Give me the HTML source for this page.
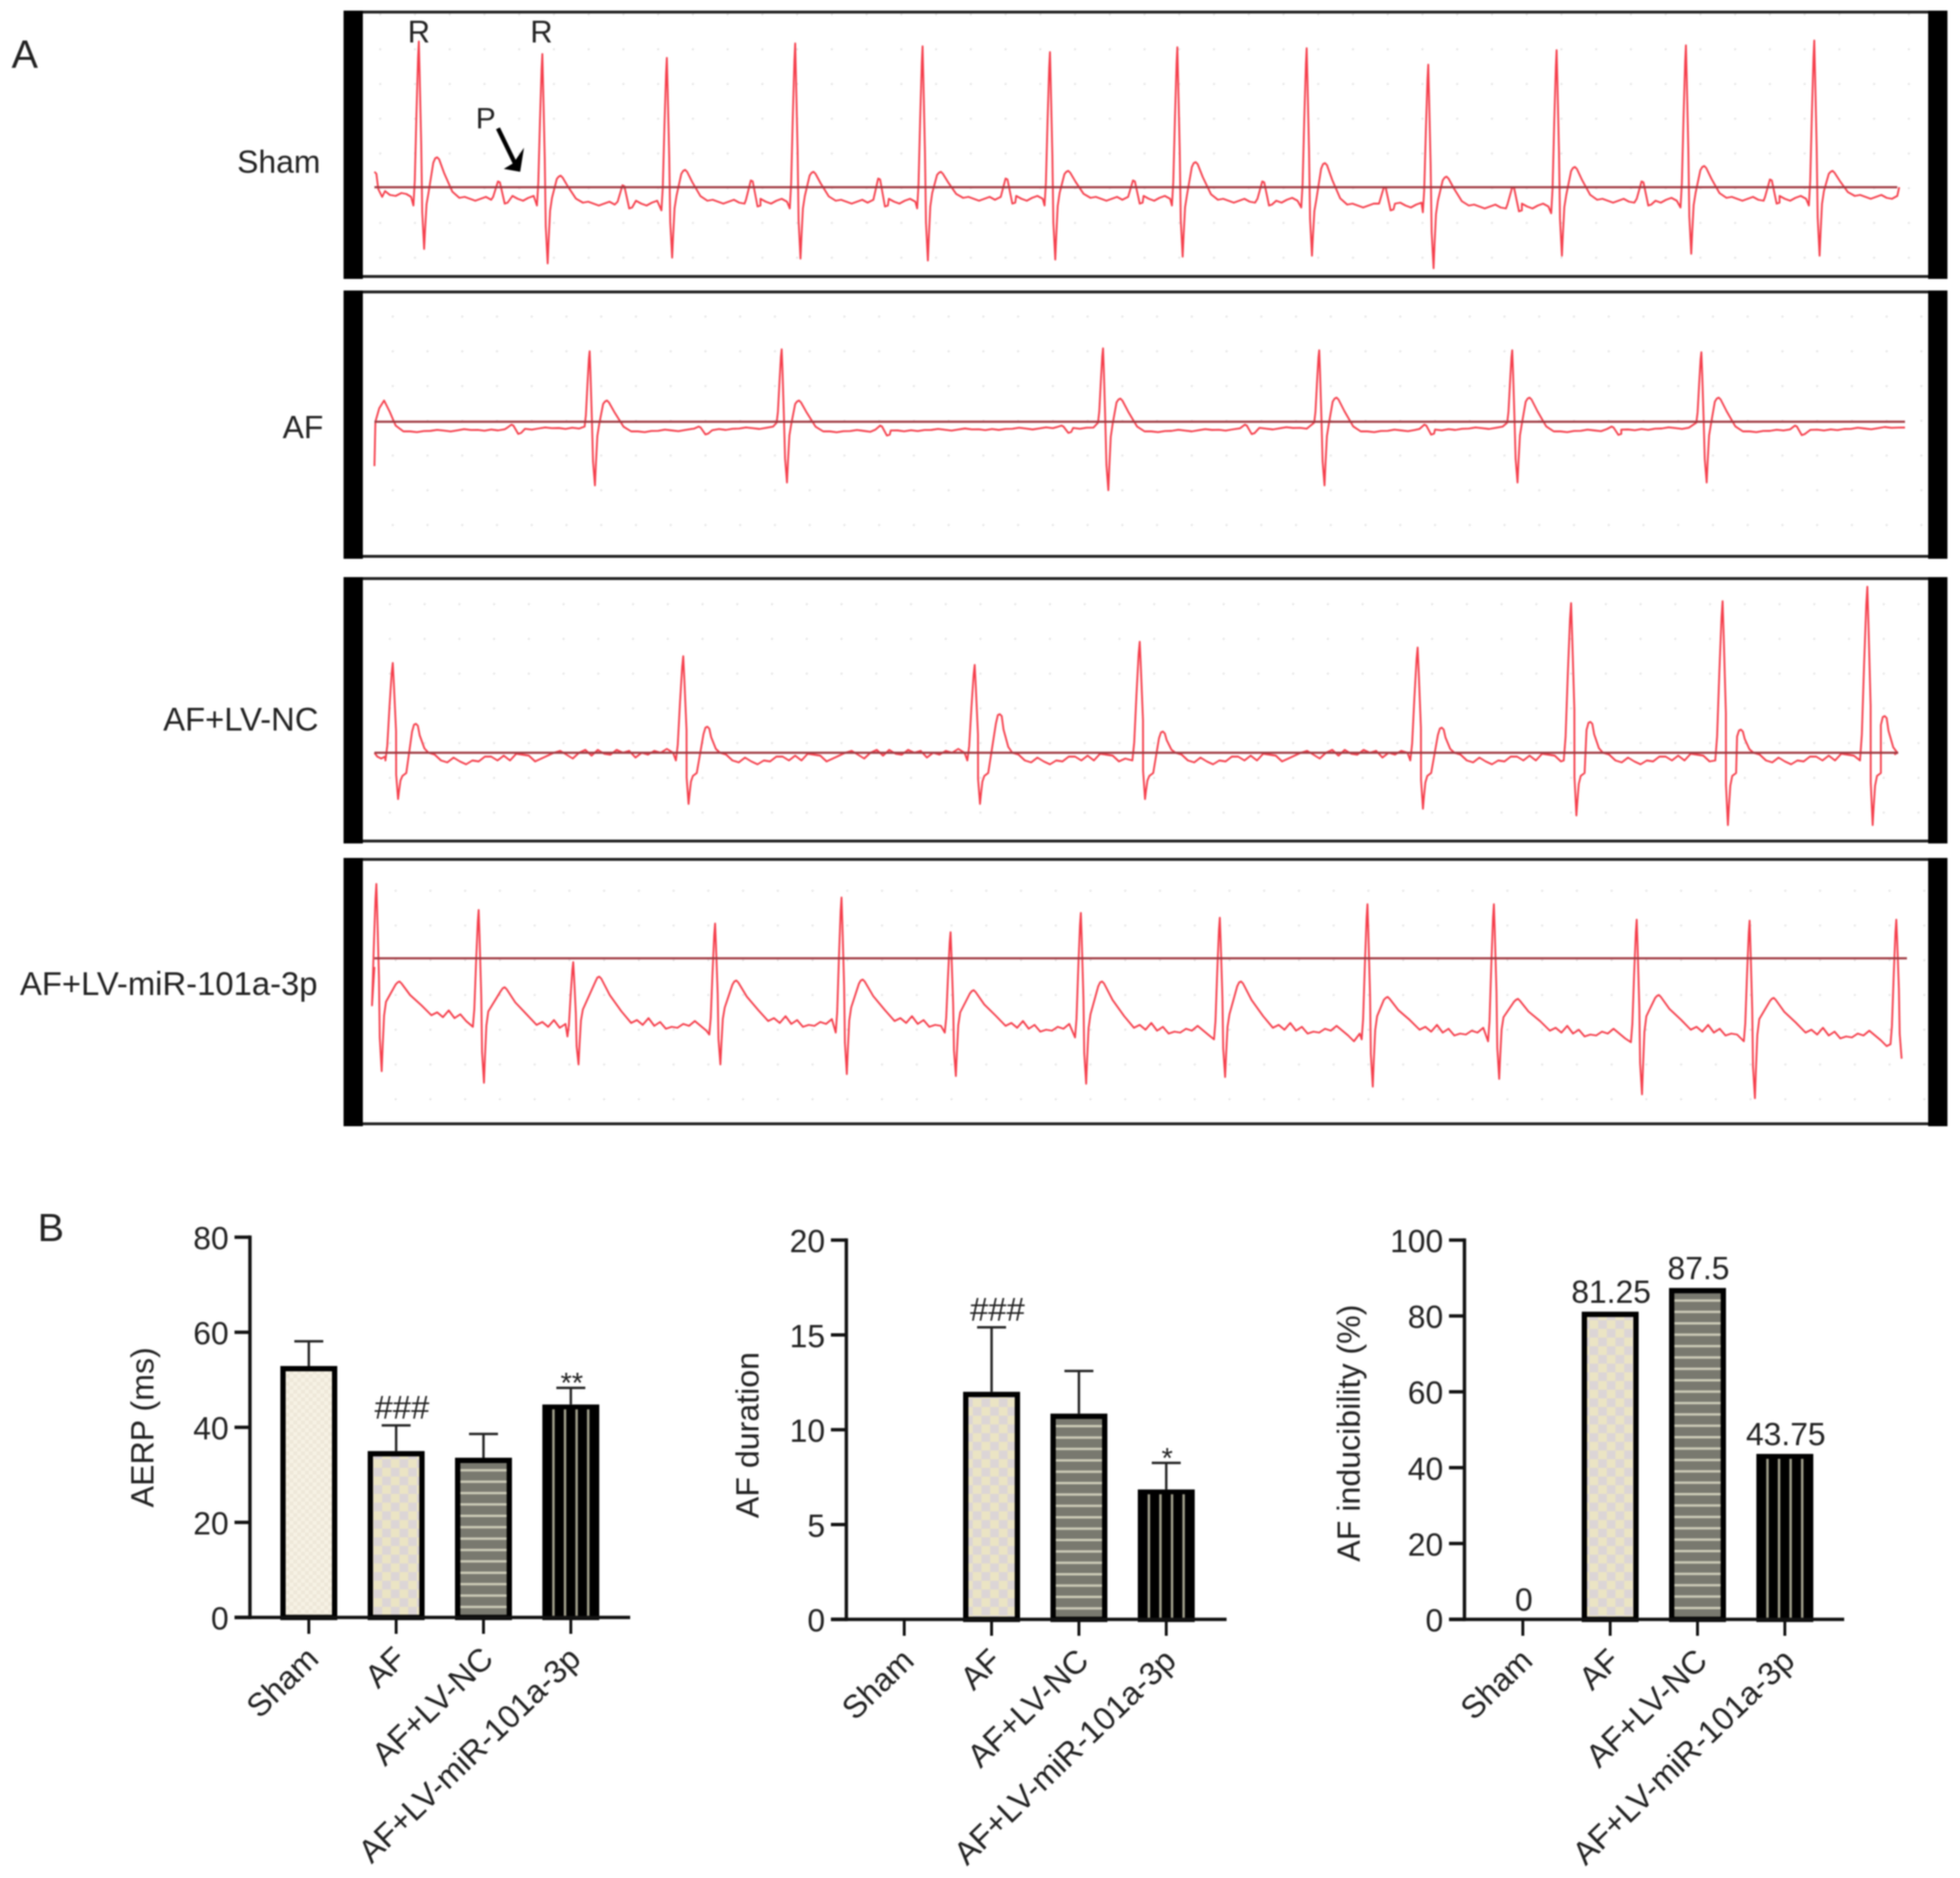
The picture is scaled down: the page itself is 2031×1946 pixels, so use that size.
<!DOCTYPE html>
<html lang="en">
<head>
<meta charset="utf-8">
<title>ECG traces and AF bar charts</title>
<style>
html,body{margin:0;padding:0;background:#fff;}
svg{display:block;filter:blur(.7px);}
text{font-family:"Liberation Sans",sans-serif;fill:#222;}
</style>
</head>
<body>
<svg id="figure" xmlns="http://www.w3.org/2000/svg" width="2031" height="1946" viewBox="0 0 2031 1946">
  <defs>
    <pattern id="dots1" patternUnits="userSpaceOnUse" x="393" y="14" width="36" height="36"><circle cx="1" cy="1" r="1.2" fill="#e6e6e6"/></pattern>
    <pattern id="dots2" patternUnits="userSpaceOnUse" x="406" y="327" width="36" height="36"><circle cx="1" cy="1" r="1.2" fill="#e6e6e6"/></pattern>
    <pattern id="dots3" patternUnits="userSpaceOnUse" x="403" y="625" width="36" height="36"><circle cx="1" cy="1" r="1.2" fill="#e6e6e6"/></pattern>
    <pattern id="dots4" patternUnits="userSpaceOnUse" x="409" y="922" width="36" height="36"><circle cx="1" cy="1" r="1.2" fill="#e6e6e6"/></pattern>
    <pattern id="fine-check" patternUnits="userSpaceOnUse" width="8" height="8">
      <rect width="8" height="8" fill="#f6f1e4"/><rect width="4" height="4" fill="#eee8d9"/><rect x="4" y="4" width="4" height="4" fill="#eee8d9"/>
    </pattern>
    <pattern id="coarse-check" patternUnits="userSpaceOnUse" width="18" height="18">
      <rect width="18" height="18" fill="#ebe4c4"/><rect width="9" height="9" fill="#dcd5d6"/><rect x="9" y="9" width="9" height="9" fill="#dcd5d6"/>
    </pattern>
  </defs>

  <text x="12" y="70" font-size="41">A</text>
  <text x="39" y="1286" font-size="41">B</text>

  <g>
    <rect x="376" y="14" width="1622" height="270" fill="url(#dots1)"/>
    <rect x="366" y="12.5" width="1642" height="274" fill="none" stroke="#222" stroke-width="3"/>
    <rect x="356" y="11" width="20" height="278" fill="#000"/>
    <rect x="1998" y="11" width="20" height="278" fill="#000"/>
    <text x="332" y="179" font-size="33" text-anchor="end">Sham</text>
  </g>
  <g>
    <rect x="376" y="304" width="1622" height="270" fill="url(#dots2)"/>
    <rect x="366" y="302.5" width="1642" height="274" fill="none" stroke="#222" stroke-width="3"/>
    <rect x="356" y="301" width="20" height="278" fill="#000"/>
    <rect x="1998" y="301" width="20" height="278" fill="#000"/>
    <text x="335" y="454" font-size="33" text-anchor="end">AF</text>
  </g>
  <g>
    <rect x="376" y="600" width="1622" height="268" fill="url(#dots3)"/>
    <rect x="366" y="599.5" width="1642" height="272" fill="none" stroke="#222" stroke-width="3"/>
    <rect x="356" y="598" width="20" height="276" fill="#000"/>
    <rect x="1998" y="598" width="20" height="276" fill="#000"/>
    <text x="330" y="757" font-size="34" text-anchor="end">AF+LV-NC</text>
  </g>
  <g>
    <rect x="376" y="892" width="1622" height="270" fill="url(#dots4)"/>
    <rect x="366" y="890.5" width="1642" height="274" fill="none" stroke="#222" stroke-width="3"/>
    <rect x="356" y="889" width="20" height="278" fill="#000"/>
    <rect x="1998" y="889" width="20" height="278" fill="#000"/>
    <text x="329" y="1031" font-size="34" text-anchor="end">AF+LV-miR-101a-3p</text>
  </g>

  <g id="traces"></g>

  <g>
    <text x="434" y="44" font-size="32" text-anchor="middle">R</text>
    <text x="561" y="44" font-size="32" text-anchor="middle">R</text>
    <text x="493" y="133" font-size="31">P</text>
    <line x1="516" y1="133" x2="534" y2="170" stroke="#000" stroke-width="4.5"/>
    <polygon points="543,153 539,178 522,175 532,169" fill="#000"/>
  </g>

  <g id="charts"></g>
</svg>

<script>
/* ---------- ECG data (time: strip units, voltage: strip units above the reference line) ---------- */
const shamBeats   = [46,174,303,436,568,700,832,966,1092,1225,1359,1492];
const shamR       = [151,138,134,149,146,140,145,144,127,142,147,152];
const shamS       = [-64,-79,-73,-74,-76,-75,-72,-71,-84,-71,-69,-71];
const shamT       = [31,12,18,16,16,17,26,25,11,21,22,17];
const shamRest    = [-11,-16,-14,-14,-11,-11,-13,-18,-19,-13,-11,-9];
const shamPTimes  = [129,258,391,523,655,787,921,1047,1180,1314,1447];
const shamPAmps   = [6,2,7,9,9,7,6,0,0,6,8];
const shamWiggle  = [1,-1,-3,-1,1,-2,-3,-1,1,2,-1,-3,0,2,-1,-2,1,3];
const shamLeadT   = [0,2,4,8,11,16,22,28,33,38];
const shamLeadV   = [16,14,-2,-10,-4,-8,-9,-6,-7,-10];
const shamTailT   = [1578,1580];
const shamTailV   = [-9,0];

const afBeats     = [223,422,755,979,1179,1375];
const afR         = [73,75,76,74,74,72];
const afS         = [-66,-63,-71,-66,-63,-63];
const afT         = [22,22,24,25,25,25];
const afRest      = [-10,-10,-10,-10,-10,-10];
const afRestEnd   = [-6,-6,-6,-6,-6,-6];
const afPTimes    = [143,337,525,713,903,1089,1283,1473];
const afPAmps     = [-3,-5,-4,-4,-3,-3,-5,-4];
const afWiggle    = [0,-1,0,0,1,0,-1,0,1,0,0,-1];
const afLeadT     = [0,1,5,10,16,22,30];
const afLeadV     = [-46,0,14,22,10,-4,-10];
const afTailT     = [1586];
const afTailV     = [-6];

const ncBeats     = [19,320,622,793,1081,1240,1397,1547];
const ncR         = [93,100,91,115,109,155,157,172];
const ncS         = [-48,-53,-53,-48,-58,-65,-75,-75];
const ncT         = [30,27,40,22,26,32,24,38];
const ncTLag      = [23,24,25,23,24,19,18,17];
const ncRest      = [0,0,0,0,0,0,0,0];
const ncWiggle    = [-2,-8,-10,-5,-9,-12,-8,-9,-4,-4,-8,-3,-8,-1,-2,-3,-9,-6,-3,0,2,-2,-6,0,3,-3,3,-1,-2,3,0,2,-5,0,-2,2,0,4,0,2,-2,3,1,-1,3,-2,2,3];
const ncLeadT     = [0,3,7,11];
const ncLeadV     = [0,-4,-6,-4];
const ncTailT     = [1575];
const ncTailV     = [-2];

const mirBeats    = [2,108,206,353,484,597,732,876,1029,1160,1308,1425,1577];
const mirR        = [77,50,-4,36,63,27,47,42,56,56,40,39,40];
const mirS        = [-117,-129,-110,-110,-120,-122,-130,-123,-133,-125,-141,-145,-104];
const mirT        = [-24,-30,-19,-23,-22,-33,-24,-24,-40,-42,-38,-41,-40];
const mirTLag     = [23,26,26,21,21,23,21,21,20,24,22,24,22];
const mirRest     = [-59,-69,-67,-65,-65,-70,-72,-72,-74,-75,-74,-77,-77];
const mirWiggle   = [3,-2,5,-3,1,-6,-4,-5,-1,-3,2,-3,-8,-14,-6,1,-3,4,-5,0,-1,3,-9,-3,-12,-4,-3,1,5,-2,0,-3,-10,-3,3,0,-2,-5,2,-8,-3,-11,-6,-3,-12,-6,5];
const mirLeadT    = [0];
const mirLeadV    = [-9];

/* ---------- Bar chart data ---------- */
const categories   = ["Sham","AF","AF+LV-NC","AF+LV-miR-101a-3p"];
const aerpValues   = [52.9,35,33.6,44.8];
const aerpErrors   = [58.1,40.4,38.6,48.3];
const aerpTicks    = [0,20,40,60,80];
const aerpMarks    = ["","###","","**"];
const durValues    = [0,12,10.85,6.85];
const durErrors    = [0,15.4,13.1,8.25];
const durTicks     = [0,5,10,15,20];
const durMarks     = ["","###","","*"];
const induValues   = [0,81.25,87.5,43.75];
const induLabels   = ["0","81.25","87.5","43.75"];
const induTicks    = [0,20,40,60,80,100];

const SVGNS = "http://www.w3.org/2000/svg";
function mk(parent, tag, attrs, txt){
  const el = document.createElementNS(SVGNS, tag);
  for(const k in attrs){ el.setAttribute(k, attrs[k]); }
  if(txt !== undefined){ el.textContent = txt; }
  parent.appendChild(el);
  return el;
}
const lerp = (a,b,f)=>a+(b-a)*f;

function buildTrace(c){
  const pts = [];
  const add = (t,v)=>pts.push([t,v]);
  c.leadT.forEach((t,k)=>add(t,c.leadV[k]));
  const restA = i=>c.rest[i];
  const restB = i=>c.restEnd ? c.restEnd[i] : c.rest[i];
  const pT = c.pTimes || [];
  const pA = c.pAmps || [];
  const used = {};
  function fill(from,to,i){
    let k = 0;
    for(let t=from; t<to; t+=c.step, k++){
      const base = lerp(restA(i),restB(i),(t-from)/Math.max(1,to-from));
      const ev = pT.findIndex(p=>t>=p-7 && t<p+9);
      if(ev>=0){
        if(!used[ev]){
          used[ev] = true;
          const p = pT[ev];
          add(p-6,base+1);
          add(p-1,pA[ev]);
          add(p+1,pA[ev]-1);
          add(p+6,base+c.pDip);
          add(p+9,base+c.pDip+1);
        }
        continue;
      }
      add(t, base + c.wiggle[k % c.wiggle.length]);
    }
  }
  const n = c.beats.length;
  const rw = c.rw || 1;
  c.beats.forEach((R,i)=>{
    if(i===0){
      const last = c.leadT[c.leadT.length-1];
      if(R-8 > last+c.step){ fill(last+c.step,R-8,0); }
    }
    const prev = i===0 ? restA(0) : restB(i-1);
    const q = prev + c.qOff;
    const rv = c.r[i], sv = c.s[i], tv = c.t[i];
    const st = c.rest[i] + c.stOff;
    if(R-4*rw > c.leadT[0]){ add(R-4*rw,q); }
    add(R-3*rw,lerp(q,rv,.15));
    add(R-1.8*rw,lerp(q,rv,.55));
    add(R-.6*rw,lerp(q,rv,.9));
    add(R,rv);
    add(R+.6*rw,lerp(sv,rv,.85));
    add(R+1.8*rw,lerp(sv,rv,.5));
    add(R+3.5,lerp(sv,rv,.18));
    add(R+5.5,sv);
    if(i===n-1 && c.endAtS){ return; }
    add(R+6.5,lerp(sv,st,.35));
    add(R+8,lerp(sv,st,.8));
    add(R+10,st);
    if(c.stHold){ add(R+10+c.stHold,st+3); }
    const P = R+(c.tLags ? c.tLags[i] : c.tLag);
    const rs = restA(i);
    add(P-3,lerp(st,tv,.85));
    add(P-1,tv-1);
    add(P+1,tv);
    add(P+3,tv-2);
    add(P+c.tFall*.35,lerp(tv,rs,.4));
    add(P+c.tFall*.7,lerp(tv,rs,.85)+(c.tBump||0));
    add(P+c.tFall,rs);
    const next = i<n-1 ? c.beats[i+1]-4*rw-1 : c.endT;
    fill(P+c.tFall+c.step,next,i);
  });
  (c.tailT||[]).forEach((t,k)=>add(t,c.tailV[k]));
  return pts;
}

function drawStrip(c){
  const root = document.getElementById("traces");
  const xOf = t=>388+t;
  const yOf = v=>c.lineY-v;
  const pts = buildTrace(c);
  const d = pts.map((p,i)=>(i?"L":"M")+xOf(p[0]).toFixed(1)+" "+yOf(p[1]).toFixed(1)).join("");
  const path = mk(root,"path",{d:d,fill:"none",stroke:"#f53f4c","stroke-width":1.9,"stroke-linejoin":"round"});
  
  
  const ref = mk(root,"line",{x1:xOf(0),x2:xOf(c.lineEnd),y1:c.lineY,y2:c.lineY,stroke:"#a03a42","stroke-width":2.2});
  
  
}

drawStrip({name:"sham",lineY:194,lineEnd:1578,beats:shamBeats,r:shamR,s:shamS,t:shamT,rest:shamRest,pTimes:shamPTimes,pAmps:shamPAmps,pDip:-6,wiggle:shamWiggle,step:5.5,leadT:shamLeadT,leadV:shamLeadV,tailT:shamTailT,tailV:shamTailV,qOff:-8,stOff:5,tLag:18,tFall:24,endT:1577,rw:1.4});
drawStrip({name:"af",lineY:437,lineEnd:1586,beats:afBeats,r:afR,s:afS,t:afT,rest:afRest,restEnd:afRestEnd,pTimes:afPTimes,pAmps:afPAmps,pDip:-5,wiggle:afWiggle,step:7,leadT:afLeadT,leadV:afLeadV,tailT:afTailT,tailV:afTailV,qOff:5,stOff:8,tLag:17,tFall:26,endT:1584,rw:1.3});
drawStrip({name:"af-lv-nc",lineY:780,lineEnd:1579,beats:ncBeats,r:ncR,s:ncS,t:ncT,tLags:ncTLag,rest:ncRest,wiggle:ncWiggle,step:6.5,leadT:ncLeadT,leadV:ncLeadV,tailT:ncTailT,tailV:ncTailV,qOff:-8,stOff:-24,stHold:4,tLag:22,tFall:14,endT:1572,rw:1.9});
drawStrip({name:"af-lv-mir",lineY:993,lineEnd:1588,beats:mirBeats,r:mirR,s:mirS,t:mirT,tLags:mirTLag,rest:mirRest,wiggle:mirWiggle,step:6,leadT:mirLeadT,leadV:mirLeadV,qOff:-12,stOff:14,tBump:5,tLag:22,tFall:34,endT:1570,endAtS:true,rw:1.5});

/* ---------- Bar charts ---------- */
const barStyles = [
  {fill:"url(#fine-check)"},
  {fill:"url(#coarse-check)"},
  {fill:"#79796f",lines:"h"},
  {fill:"#000",lines:"v"}
];

function drawChart(c){
  const root = document.getElementById("charts");
  const g = mk(root,"g",{});
  
  
  const maxTick = c.ticks[c.ticks.length-1];
  const yOf = v=>c.y0+(c.yTop-c.y0)*v/maxTick;
  const xOf = i=>c.x0+c.step*i;
  const BW = 59, SW = 5.5;

  c.values.forEach((v,i)=>{
    if(!v){ return; }
    const cx = xOf(i);
    const top = yOf(v)+(c.topInset||0);
    if(c.errors){
      const ey = yOf(c.errors[i]);
      const stem = mk(g,"line",{x1:cx,x2:cx,y1:ey,y2:top,stroke:"#222","stroke-width":2.5});
      
      
      const cap = mk(g,"line",{x1:cx-15,x2:cx+15,y1:ey,y2:ey,stroke:"#222","stroke-width":2.5});
      
      
    }
    const st = barStyles[i];
    const bar = mk(g,"rect",{x:cx-BW/2+SW/2,y:top+SW/2,width:BW-SW,height:c.y0-top-SW/2,fill:st.fill,stroke:"#000","stroke-width":SW});
    
    
    if(st.lines==="h"){
      for(let y=top+13; y<c.y0-2; y+=11.8){
        const s = mk(g,"line",{x1:cx-BW/2+SW,x2:cx+BW/2-SW,y1:y,y2:y,stroke:"#cbcab6","stroke-width":2.5});
        
        
      }
    }
    if(st.lines==="v"){
      [-18,-6,6,18].forEach(dx=>{
        const s = mk(g,"line",{x1:cx+dx,x2:cx+dx,y1:top+5,y2:c.y0,stroke:"#a5a38f","stroke-width":2.5});
        
        
      });
    }
    if(c.marks && c.marks[i]){
      const isHash = c.marks[i][0]==="#";
      const my = isHash ? yOf(c.errors[i])-7 : yOf(c.errors[i])+5;
      const m = mk(g,"text",{x:isHash?cx+6:cx+1,y:my,"font-size":isHash?34:30,"text-anchor":"middle"},c.marks[i]);
      
      
    }
  });

  if(c.labels){
    c.labels.forEach((l,i)=>{
      const t = mk(g,"text",{x:xOf(i)+1,y:(c.values[i]?yOf(c.values[i])+(c.topInset||0):c.y0)-9,"font-size":33,"text-anchor":"middle"},l);
      
      
    });
  }

  /* axes */
  const yAxis = mk(g,"line",{x1:c.axisX,x2:c.axisX,y1:yOf(maxTick)-1.75,y2:c.y0+1.75,stroke:"#111","stroke-width":3.5});
  
  
  const xAxis = mk(g,"line",{x1:c.axisX-16,x2:c.axisEnd,y1:c.y0,y2:c.y0,stroke:"#111","stroke-width":3.5});
  
  

  c.ticks.forEach(v=>{
    const y = yOf(v);
    const tk = mk(g,"line",{x1:c.axisX-16,x2:c.axisX,y1:y,y2:y,stroke:"#111","stroke-width":3.5});
    
    
    const lb = mk(g,"text",{x:c.axisX-22,y:y+12.5,"font-size":33,"text-anchor":"end"},String(v));
    
    
  });

  categories.forEach((cat,i)=>{
    const cx = xOf(i);
    const tk = mk(g,"line",{x1:cx,x2:cx,y1:c.y0,y2:c.y0+17,stroke:"#111","stroke-width":3});
    
    
    const lx = cx+12, ly = c.y0+45;
    const lb = mk(g,"text",{x:lx,y:ly,"font-size":33.5,"text-anchor":"end",transform:"rotate(-44 "+lx+" "+ly+")"},cat);
    
    
  });

  const tx = c.titleX, ty = c.titleY;
  const title = mk(g,"text",{x:tx,y:ty,"font-size":33.3,"text-anchor":"middle",transform:"rotate(-90 "+tx+" "+ty+")"},c.title);
  
  
}

drawChart({name:"aerp",values:aerpValues,errors:aerpErrors,ticks:aerpTicks,marks:aerpMarks,title:"AERP (ms)",titleX:159,titleY:1479,axisX:259,axisEnd:653,y0:1676,yTop:1282,x0:320,step:90.5});
drawChart({name:"af-duration",values:durValues,errors:durErrors,ticks:durTicks,marks:durMarks,title:"AF duration",titleX:786,titleY:1487,axisX:877,axisEnd:1271,y0:1678,yTop:1285,x0:937,step:90.5});
drawChart({name:"af-inducibility",values:induValues,labels:induLabels,ticks:induTicks,title:"AF inducibility (%)",titleX:1409,titleY:1485,axisX:1517.5,axisEnd:1911,y0:1678,yTop:1285,x0:1578,step:90.5,topInset:0.5});
</script>
</body>
</html>
